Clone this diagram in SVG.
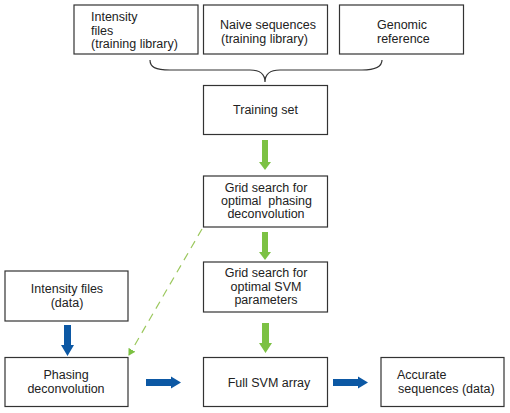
<svg xmlns="http://www.w3.org/2000/svg" width="510" height="413" viewBox="0 0 510 413">
<defs>
<style>
.box{fill:#fff;stroke:#333;stroke-width:1.2}
text{font-family:"Liberation Sans",Arial,sans-serif;font-size:12.5px;fill:#222}
.c{text-anchor:middle}
.g{fill:#7cc143}
.b{fill:#0c58a4}
</style>
<marker id="dh" markerWidth="8" markerHeight="8" refX="6" refY="4" orient="auto" markerUnits="userSpaceOnUse">
<path d="M0,0 L7,4 L0,8 Z" fill="#7cc143"/>
</marker>
</defs>
<rect width="510" height="413" fill="#fff"/>
<g id="n1"><rect class="box" x="74" y="5" width="124" height="49"/>
<text x="91" y="21">Intensity</text><text x="91" y="34.5">files</text><text x="91" y="48">(training library)</text></g>
<g id="n2"><rect class="box" x="203.5" y="5" width="124" height="49"/>
<text x="220" y="29">Naive sequences</text><text x="221" y="42.5">(training library)</text></g>
<g id="n3"><rect class="box" x="339.5" y="5" width="124" height="49"/>
<text x="377" y="29">Genomic</text><text x="377" y="42.5">reference</text></g>
<g id="n4"><rect class="box" x="203.5" y="85.5" width="124" height="49"/>
<text class="c" x="265.5" y="114">Training set</text></g>
<g id="n5"><rect class="box" x="203.5" y="176" width="124" height="51"/>
<text class="c" x="266" y="192">Grid search for</text><text class="c" x="266.5" y="205" xml:space="preserve">optimal  phasing</text><text class="c" x="266" y="218">deconvolution</text></g>
<g id="n6"><rect class="box" x="203.5" y="262" width="124" height="50"/>
<text class="c" x="266" y="277">Grid search for</text><text class="c" x="266" y="290.5">optimal SVM</text><text class="c" x="266" y="304">parameters</text></g>
<g id="n7"><rect class="box" x="5" y="271" width="123" height="50"/>
<text class="c" x="67" y="293">Intensity files</text><text class="c" x="67" y="307">(data)</text></g>
<g id="n8"><rect class="box" x="5" y="357.5" width="123" height="49"/>
<text class="c" x="66" y="379">Phasing</text><text class="c" x="66" y="392.5">deconvolution</text></g>
<g id="n9"><rect class="box" x="203.5" y="357.5" width="124" height="49"/>
<text class="c" x="269" y="387">Full SVM array</text></g>
<g id="n10"><rect class="box" x="381" y="357.5" width="123" height="49"/>
<text x="397" y="379">Accurate</text><text x="398" y="392.5">sequences (data)</text></g>
<g id="connectors">
<path d="M150,60 C150,67 155,70 170,70 L250,70 C260,70 265,74 265,82 C265,74 270,70 280,70 L362,70 C376,70 382,67 382,60" fill="none" stroke="#333" stroke-width="1.2"/>
<path class="g" d="M262,140 H268 V162 H271 L265,170 L259,162 H262 Z"/>
<path class="g" d="M262,232 H268 V252 H271 L265,260 L259,252 H262 Z"/>
<path class="g" d="M262,323 H269 V343 H272 L265.5,353 L259,343 H262 Z"/>
<path class="b" d="M64,325 H71 V345 H74 L67.5,356 L61,345 H64 Z"/>
<path class="b" d="M146,379 H171 V376.5 L181,382.5 L171,388.5 V386 H146 Z"/>
<path class="b" d="M333,379 H358 V376.5 L368,382.5 L358,388.5 V386 H333 Z"/>
<line x1="202" y1="229" x2="129" y2="355" stroke="#9cc85e" stroke-width="1.2" stroke-dasharray="8,6" marker-end="url(#dh)"/>
</g>
</svg>
